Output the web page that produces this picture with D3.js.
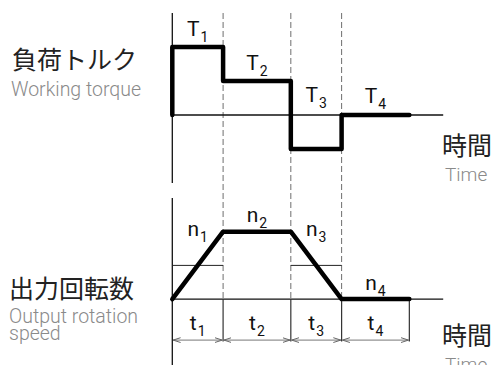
<!DOCTYPE html>
<html>
<head>
<meta charset="utf-8">
<script src="https://cdn.jsdelivr.net/npm/d3@7"></script>
<style>
  body { margin: 0; background: #fff; }
  svg { display: block; }
</style>
</head>
<body>
<div id="chart"></div>
<script>
// time boundaries of the four phases (t1..t4)
var phaseEdges = [0, 1.5, 3.5, 5, 7];
var phaseNames = ["1", "2", "3", "4"];
// load torque per phase T1..T4
var torqueValues = [2, 1, -1, 0];
// output speed curve (time, speed)
var speedTimes = [0, 1.5, 3.5, 5, 7];
var speedValues = [0, 2, 2, 0, 0];
// mean speed guide lines in the accel / decel phases (n1, n3)
var meanSpeed = [1, null, 1, null];

var width = 492, height = 365;

var svg = d3.select("#chart").append("svg")
  .attr("width", width)
  .attr("height", height);

var x = d3.scaleLinear().domain([0, 8]).range([172.3, 443.2]);
var yT = d3.scaleLinear().domain([-2, 3]).range([183, 13]);
var yN = d3.scaleLinear().domain([-2, 3]).range([366.5, 198]);

var cjk = "'Noto Sans CJK JP', sans-serif";
var latin = "Roboto, 'Liberation Sans', sans-serif";

svg.append("defs").append("marker")
  .attr("id", "arr")
  .attr("viewBox", "0 0 8 6")
  .attr("refX", 7.5).attr("refY", 3)
  .attr("markerWidth", 8).attr("markerHeight", 6)
  .attr("markerUnits", "userSpaceOnUse")
  .attr("orient", "auto-start-reverse")
  .append("path")
  .attr("d", "M0,0.6 L7.5,3 L0,5.4")
  .attr("fill", "none")
  .attr("stroke", "#666")
  .attr("stroke-width", 1);

// dashed phase separators
svg.selectAll(".sep").data(phaseEdges.slice(1, 4)).enter().append("line")
  .attr("x1", function(d) { return x(d); }).attr("x2", function(d) { return x(d); })
  .attr("y1", yT(3)).attr("y2", yN(0))
  .attr("stroke", "#6e6e6e").attr("stroke-width", 1)
  .attr("stroke-dasharray", "6,3");

// vertical axes
svg.append("line").attr("x1", x(0)).attr("x2", x(0))
  .attr("y1", yT(3)).attr("y2", yT(-2))
  .attr("stroke", "#111").attr("stroke-width", 1.3);
svg.append("line").attr("x1", x(0)).attr("x2", x(0))
  .attr("y1", yN(3)).attr("y2", yN(-2))
  .attr("stroke", "#111").attr("stroke-width", 1.3);

// time axes
svg.append("line").attr("x1", x(0)).attr("x2", x(8))
  .attr("y1", yT(0)).attr("y2", yT(0))
  .attr("stroke", "#111").attr("stroke-width", 1.3);
svg.append("line").attr("x1", x(0)).attr("x2", x(8))
  .attr("y1", yN(0)).attr("y2", yN(0))
  .attr("stroke", "#111").attr("stroke-width", 1.3);

// dimension ticks under speed axis
var dimY = yN(0) + 41;
svg.selectAll(".tick").data(phaseEdges.slice(1)).enter().append("line")
  .attr("x1", function(d) { return x(d); }).attr("x2", function(d) { return x(d); })
  .attr("y1", yN(0)).attr("y2", dimY + 1.5)
  .attr("stroke", "#333").attr("stroke-width", 1.2);

// dimension arrows
svg.selectAll(".dim").data(d3.range(4)).enter().append("line")
  .attr("x1", function(i) { return x(phaseEdges[i]) + 0.8; })
  .attr("x2", function(i) { return x(phaseEdges[i + 1]) - 0.8; })
  .attr("y1", dimY).attr("y2", dimY)
  .attr("stroke", "#777").attr("stroke-width", 1)
  .attr("marker-start", "url(#arr)")
  .attr("marker-end", "url(#arr)");

// mean speed guides
svg.selectAll(".mean").data(d3.range(4).filter(function(i) { return meanSpeed[i] != null; }))
  .enter().append("line")
  .attr("x1", function(i) { return x(phaseEdges[i]); })
  .attr("x2", function(i) { return x(phaseEdges[i + 1]); })
  .attr("y1", function(i) { return yN(meanSpeed[i]); })
  .attr("y2", function(i) { return yN(meanSpeed[i]); })
  .attr("stroke", "#222").attr("stroke-width", 1);

// torque step line
var tPts = [[0, 0]];
torqueValues.forEach(function(v, i) { tPts.push([phaseEdges[i], v]); });
tPts.push([phaseEdges[4], torqueValues[3]]);
var tLine = d3.line()
  .x(function(d) { return x(d[0]); })
  .y(function(d) { return yT(d[1]); })
  .curve(d3.curveStepAfter);
svg.append("path").attr("d", tLine(tPts))
  .attr("fill", "none").attr("stroke", "#000").attr("stroke-width", 4.5)
  .attr("stroke-linejoin", "round").attr("stroke-linecap", "round");

// speed line
var nLine = d3.line()
  .x(function(d, i) { return x(speedTimes[i]); })
  .y(function(d) { return yN(d); });
svg.append("path").attr("d", nLine(speedValues))
  .attr("fill", "none").attr("stroke", "#000").attr("stroke-width", 4.5)
  .attr("stroke-linejoin", "round").attr("stroke-linecap", "round");

// symbol labels with subscripts
function addLabel(letter, sub, cx, y) {
  var t = svg.append("text")
    .attr("x", cx).attr("y", y)
    .attr("text-anchor", "middle")
    .attr("font-family", latin).attr("font-size", 21)
    .attr("fill", "#111");
  t.append("tspan").text(letter);
  t.append("tspan").attr("font-size", 14).attr("dy", 6).attr("dx", 1).text(sub);
}
var torqueLabelY = [36, 70, 102, 103];
var speedLabelY = [236, 222, 236, 290];
phaseNames.forEach(function(s, i) {
  var cx = (x(phaseEdges[i]) + x(phaseEdges[i + 1])) / 2;
  addLabel("T", s, cx, torqueLabelY[i]);
  addLabel("n", s, cx, speedLabelY[i]);
  addLabel("t", s, cx, 330);
});

// side titles
function title(txt, tx, ty, size, color, fam) {
  svg.append("text").attr("x", tx).attr("y", ty)
    .attr("font-family", fam).attr("font-size", size)
    .attr("font-weight", fam == latin ? 300 : 400)
    .attr("fill", color).text(txt);
}
title("負荷トルク", 12, 69, 25, "#222", cjk);
title("Working torque", 11, 96, 19.5, "#8a8a8a", latin);
title("出力回転数", 9, 298, 25, "#222", cjk);
title("Output rotation", 9, 323, 19.5, "#8a8a8a", latin);
title("speed", 9, 340, 19.5, "#8a8a8a", latin);
title("時間", 442, 155, 25, "#222", cjk);
title("Time", 445, 181, 19, "#8a8a8a", latin);
title("時間", 442, 345, 25, "#222", cjk);
title("Time", 445, 371, 19, "#8a8a8a", latin);
</script>
</body>
</html>
